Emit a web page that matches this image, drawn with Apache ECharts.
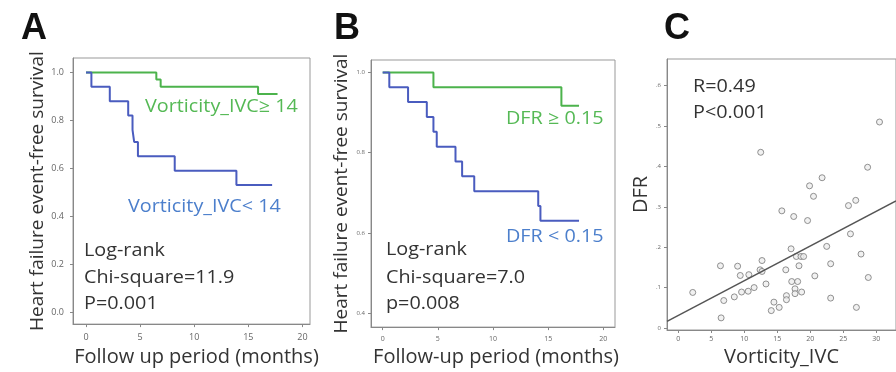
<!DOCTYPE html>
<html>
<head>
<meta charset="utf-8">
<script src="https://cdn.jsdelivr.net/npm/echarts@6/dist/echarts.min.js"></script>
<style>
  html, body { margin: 0; padding: 0; background: #fff; }
  #chart { width: 896px; height: 372px; }
</style>
</head>
<body>
<div id="chart"></div>
<script>
// Panel A: Kaplan-Meier by Vorticity_IVC
const aHighTime = [0, 6.5, 6.9, 15.9, 17.7];
const aHighSurv = [1.0, 0.97, 0.94, 0.91, 0.91];
const aLowTime = [0, 0.5, 2.2, 3.9, 4.3, 4.45, 4.8, 8.2, 13.9, 17.2];
const aLowSurv = [1.0, 0.94, 0.88, 0.82, 0.76, 0.71, 0.65, 0.59, 0.53, 0.53];

// Panel B: Kaplan-Meier by DFR
const bHighTime = [0, 4.6, 16.2, 17.8];
const bHighSurv = [1.0, 0.963, 0.917, 0.917];
const bLowTime = [0, 0.6, 2.3, 4.0, 4.6, 4.9, 6.6, 7.2, 8.3, 14.1, 14.3, 17.8];
const bLowSurv = [1.0, 0.963, 0.926, 0.889, 0.852, 0.815, 0.778, 0.741, 0.704, 0.667, 0.630, 0.630];

// Panel C: scatter DFR vs Vorticity_IVC
const vorticity = [30.5, 12.5, 28.7, 21.8, 19.9, 20.5, 26.9, 25.8, 15.7, 17.5, 19.6,
  26.1, 22.5, 27.7, 17.1, 17.9, 18.6, 19.0, 18.3, 16.3, 23.1, 20.7, 28.8, 12.7, 12.4,
  12.7, 6.4, 9.0, 9.4, 10.7, 13.3, 11.5, 10.6, 9.6, 8.5, 6.9, 2.2, 6.5, 17.2, 18.1,
  17.7, 17.7, 18.7, 16.4, 16.4, 14.5, 15.3, 14.1, 23.1, 27.0];
const dfr = [0.510, 0.435, 0.398, 0.372, 0.352, 0.326, 0.316, 0.303, 0.290, 0.276, 0.266,
  0.233, 0.202, 0.183, 0.196, 0.177, 0.177, 0.177, 0.154, 0.144, 0.159, 0.129, 0.125, 0.167, 0.144,
  0.140, 0.154, 0.153, 0.130, 0.132, 0.109, 0.100, 0.091, 0.089, 0.077, 0.068, 0.088, 0.025, 0.115, 0.115,
  0.097, 0.085, 0.089, 0.080, 0.070, 0.064, 0.051, 0.043, 0.074, 0.051];
const fitIntercept = 0.031;
const fitSlope = 0.0086;

// tick labels
const kmTimeTicks = [0, 5, 10, 15, 20];
const aSurvTicks = [0, 0.2, 0.4, 0.6, 0.8, 1.0];
const bSurvTicks = [0.4, 0.6, 0.8, 1.0];
const vortTicks = [0, 5, 10, 15, 20, 25, 30];
const dfrTicks = [0, 0.1, 0.2, 0.3, 0.4, 0.5, 0.6];

const zip = (xs, ys) => xs.map((x, i) => [x, ys[i]]);

const GREEN = '#4cb34c';
const BLUE = '#4a5cbf';
const GREEN_TXT = '#55b955';
const BLUE_TXT = '#4c7fcc';
const FONT = 'Open Sans';

const cXMin = -1.7, cXMax = 33;

const myChart = echarts.init(document.getElementById('chart'));

function valueAxis(grid, min, max, ticks, fmt, fontSize, margin, extra) {
  return Object.assign({
    type: 'value',
    gridIndex: grid,
    min: min,
    max: max,
    axisLine: { show: true, onZero: false, lineStyle: { color: '#888', width: 1 } },
    axisTick: { show: true, length: 3, customValues: ticks, lineStyle: { color: '#888' } },
    axisLabel: { customValues: ticks, formatter: fmt, fontSize: fontSize, color: '#666', fontFamily: FONT, margin: margin },
    splitLine: { show: false },
    nameLocation: 'middle',
    nameTextStyle: { fontSize: 20, color: '#333', fontFamily: FONT }
  }, extra || {});
}

const kmLine = (xi, color, data) => ({
  type: 'line', xAxisIndex: xi, yAxisIndex: xi, step: 'end', symbol: 'none',
  lineStyle: { color: color, width: 2 }, data: data, silent: true
});

// annotation text, slightly widened like the source figure
const text = (x, y, str, color) => ({
  type: 'text', left: x, top: y, scaleX: 1.1,
  style: { text: str, fill: color, fontSize: 18, fontFamily: FONT }
});

const letter = (x, str) => ({
  type: 'text', left: x, top: 11,
  style: { text: str, fill: '#111', fontSize: 36, fontWeight: 'bold', fontFamily: 'Liberation Sans' }
});

const option = {
  animation: false,
  grid: [
    { left: 73, top: 58, width: 237, height: 272, show: true, borderColor: '#999', borderWidth: 1 },
    { left: 371, top: 60, width: 244, height: 271, show: true, borderColor: '#999', borderWidth: 1 },
    { left: 667, top: 59, width: 243, height: 271, show: true, borderColor: '#999', borderWidth: 1 }
  ],
  xAxis: [
    valueAxis(0, -1.2, 20.7, kmTimeTicks, v => String(v), 9, 9, { name: 'Follow up period (months)', nameGap: 17, nameTextStyle: { fontSize: 20, color: '#333', fontFamily: FONT, padding: [0, 0, 0, 10] } }),
    valueAxis(1, -1.06, 21.06, kmTimeTicks, v => String(v), 7, 8, { name: 'Follow-up period (months)', nameGap: 17, nameTextStyle: { fontSize: 20, color: '#333', fontFamily: FONT, padding: [0, 0, 0, 6] } }),
    valueAxis(2, cXMin, cXMax, vortTicks, v => String(v), 7, 5, { name: 'Vorticity_IVC', nameGap: 17 })
  ],
  yAxis: [
    valueAxis(0, -0.05, 1.06, aSurvTicks, v => v.toFixed(1), 9, 9, { name: 'Heart failure event-free survival', nameGap: 25, nameTextStyle: { fontSize: 19, color: '#333', fontFamily: FONT } }),
    valueAxis(1, 0.365, 1.031, bSurvTicks, v => v.toFixed(1), 6, 6, { name: 'Heart failure event-free survival', nameGap: 20, nameTextStyle: { fontSize: 19, color: '#333', fontFamily: FONT } }),
    valueAxis(2, -0.005, 0.666, dfrTicks, v => v === 0 ? '0' : v.toFixed(1).replace(/^0/, ''), 6, 6, { name: 'DFR', nameGap: 16 })
  ],
  series: [
    kmLine(0, GREEN, zip(aHighTime, aHighSurv)),
    kmLine(0, BLUE, zip(aLowTime, aLowSurv)),
    kmLine(1, GREEN, zip(bHighTime, bHighSurv)),
    kmLine(1, BLUE, zip(bLowTime, bLowSurv)),
    {
      type: 'scatter', xAxisIndex: 2, yAxisIndex: 2, symbol: 'circle', symbolSize: 6,
      itemStyle: { color: '#eee', borderColor: '#777', borderWidth: 1 },
      data: zip(vorticity, dfr), silent: true
    },
    {
      type: 'line', xAxisIndex: 2, yAxisIndex: 2, symbol: 'none',
      lineStyle: { color: '#555', width: 1.5 },
      data: [[cXMin, fitIntercept + fitSlope * cXMin], [cXMax, fitIntercept + fitSlope * cXMax]],
      silent: true
    }
  ],
  graphic: [
    letter(21, 'A'),
    letter(334, 'B'),
    letter(664, 'C'),
    text(145, 98, 'Vorticity_IVC\u2265 14', GREEN_TXT),
    text(128, 198, 'Vorticity_IVC< 14', BLUE_TXT),
    text(84, 242, 'Log-rank', '#333'),
    text(84, 269, 'Chi-square=11.9', '#333'),
    text(84, 295, 'P=0.001', '#333'),
    text(506, 110, 'DFR \u2265 0.15', GREEN_TXT),
    text(506, 228, 'DFR < 0.15', BLUE_TXT),
    text(386, 241, 'Log-rank', '#333'),
    text(386, 269, 'Chi-square=7.0', '#333'),
    text(386, 295, 'p=0.008', '#333'),
    text(693, 78, 'R=0.49', '#333'),
    text(693, 104, 'P<0.001', '#333')
  ]
};

myChart.setOption(option);
</script>
</body>
</html>
